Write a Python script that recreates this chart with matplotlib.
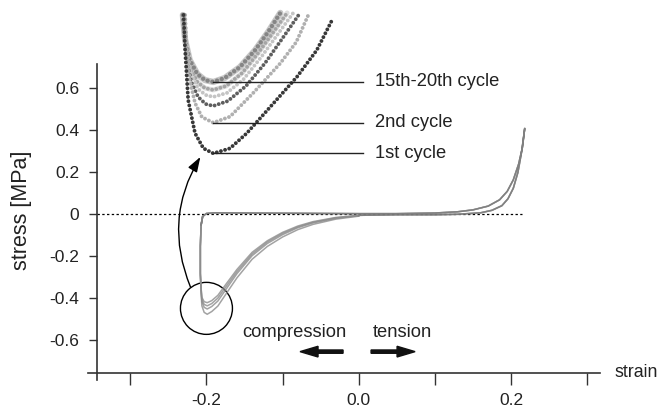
import numpy as np
import matplotlib.pyplot as plt
from matplotlib.patches import Ellipse

plt.rcParams['font.family'] = ['Liberation Sans', 'DejaVu Sans']
plt.rcParams['axes.unicode_minus'] = False

# Hauptschleife: gemeinsamer Teil (Entlastung Druck -> Zug -> zurueck)
shared_x = [-0.207, -0.205, -0.200, -0.190, -0.150, -0.100, -0.050, 0.000, 0.050, 0.100,
            0.130, 0.150, 0.170, 0.185, 0.195, 0.203, 0.210, 0.215, 0.218,
            0.214, 0.209, 0.203, 0.196, 0.188, 0.175, 0.160, 0.130, 0.100, 0.050, 0.000]
shared_y = [-0.050, -0.010, 0.005, 0.008, 0.007, 0.006, 0.005, 0.004, 0.004, 0.007,
            0.013, 0.022, 0.040, 0.070, 0.110, 0.165, 0.240, 0.320, 0.410,
            0.300, 0.200, 0.125, 0.075, 0.042, 0.020, 0.008, 0.001, -0.001, -0.001, -0.004]

# Druckast je Zyklus
comp_x = [0.000, -0.030, -0.060, -0.080, -0.100, -0.120, -0.140, -0.160, -0.175, -0.185,
          -0.193, -0.199, -0.203, -0.206, -0.207, -0.208, -0.208, -0.207, -0.205]
comp_y_late_a = [-0.004, -0.014, -0.034, -0.055, -0.085, -0.125, -0.180, -0.262, -0.335, -0.385,
                 -0.410, -0.420, -0.415, -0.395, -0.350, -0.280, -0.150, -0.050, -0.010]
comp_y_late_b = [-0.005, -0.016, -0.037, -0.059, -0.090, -0.131, -0.188, -0.272, -0.347, -0.398,
                 -0.424, -0.435, -0.428, -0.405, -0.355, -0.280, -0.150, -0.050, -0.010]
comp_y_2nd = [-0.006, -0.018, -0.040, -0.063, -0.096, -0.138, -0.196, -0.282, -0.360, -0.412,
              -0.438, -0.450, -0.442, -0.415, -0.360, -0.285, -0.150, -0.050, -0.010]
comp_y_1st = [-0.008, -0.022, -0.047, -0.072, -0.107, -0.152, -0.213, -0.302, -0.382, -0.436,
              -0.462, -0.475, -0.466, -0.435, -0.375, -0.290, -0.150, -0.050, -0.010]

# Vergroesserung der Minima (Inset)
c20_x = [-0.231, -0.228, -0.222, -0.212, -0.202, -0.191, -0.176, -0.156, -0.136, -0.119, -0.103]
c20_y = [0.950, 0.831, 0.736, 0.669, 0.640, 0.631, 0.650, 0.702, 0.783, 0.869, 0.960]
c5_x = [-0.230, -0.227, -0.222, -0.212, -0.202, -0.191, -0.174, -0.153, -0.132, -0.113, -0.094]
c5_y = [0.950, 0.807, 0.702, 0.631, 0.602, 0.593, 0.612, 0.674, 0.769, 0.864, 0.960]
c4_x = [-0.229, -0.227, -0.220, -0.211, -0.201, -0.191, -0.173, -0.151, -0.128, -0.107, -0.086]
c4_y = [0.950, 0.783, 0.669, 0.598, 0.569, 0.560, 0.579, 0.645, 0.750, 0.855, 0.960]
c3_x = [-0.229, -0.227, -0.220, -0.211, -0.201, -0.191, -0.172, -0.148, -0.123, -0.099, -0.077]
c3_y = [0.950, 0.760, 0.631, 0.560, 0.526, 0.517, 0.540, 0.612, 0.721, 0.845, 0.960]
c2_x = [-0.228, -0.226, -0.222, -0.215, -0.206, -0.191, -0.169, -0.139, -0.103, -0.082, -0.065]
c2_y = [0.950, 0.783, 0.640, 0.531, 0.464, 0.437, 0.466, 0.577, 0.720, 0.821, 0.960]
c1_x = [-0.230, -0.228, -0.224, -0.215, -0.204, -0.191, -0.169, -0.147, -0.116, -0.081, -0.055, -0.035]
c1_y = [0.950, 0.783, 0.545, 0.387, 0.315, 0.291, 0.315, 0.387, 0.513, 0.656, 0.783, 0.926]

yticks = [-0.6, -0.4, -0.2, 0, 0.2, 0.4, 0.6]
ytick_labels = ['-0.6', '-0.4', '-0.2', '0', '0.2', '0.4', '0.6']
xticks = [-0.3, -0.2, -0.1, 0.0, 0.1, 0.2, 0.3]
xtick_labels = ['', '-0.2', '', '0.0', '', '0.2', '']

fig = plt.figure(figsize=(6.59, 4.13), dpi=100)
ax = fig.add_axes([0.1284, 0.07385, 0.7857, 0.9102])
ax.set_xlim(-0.36, 0.32)
ax.set_ylim(-0.80, 0.99)

# Achsen
for s in ['top', 'right']:
    ax.spines[s].set_visible(False)
ax.spines['left'].set_position(('data', -0.344))
ax.spines['left'].set_bounds(-0.789, 0.717)
ax.spines['bottom'].set_position(('data', -0.753))
ax.spines['bottom'].set_bounds(-0.355, 0.317)
for s in ['left', 'bottom']:
    ax.spines[s].set_color('#333333')
    ax.spines[s].set_linewidth(1.2)
ax.set_yticks(yticks)
ax.set_yticklabels(ytick_labels)
ax.set_xticks(xticks)
ax.set_xticklabels(xtick_labels)
ax.tick_params(axis='y', direction='out', length=5.8, width=1, color='#333333',
               labelsize=12.5, pad=7, labelcolor='#222222')
ax.tick_params(axis='x', direction='out', length=8.6, width=1, color='#333333',
               labelsize=12.5, pad=6, labelcolor='#222222')

# Nulllinie
ax.plot([-0.344, 0.214], [0, 0], color='black', lw=0.9, ls=(0, (1.9, 1.9)))

# Hauptschleifen
for cy in [comp_y_1st, comp_y_2nd, comp_y_late_b, comp_y_late_a]:
    ax.plot(comp_x, cy, color='#8c8c8c', lw=1.1, alpha=0.8)
    ax.plot(shared_x, shared_y, color='#7c7c7c', lw=1.1, alpha=0.55)

# Inset-Kurven als Perlenketten
ax.plot(c20_x, c20_y, color='#a0a0a0', lw=4.5, alpha=0.6, solid_capstyle='round')
ax.plot(c5_x, c5_y, color='#c8c8c8', lw=3.5, alpha=0.6, solid_capstyle='round')
inset = [(c20_x, c20_y, '#858585', 3.2), (c5_x, c5_y, '#a5a5a5', 2.8),
         (c4_x, c4_y, '#c4c4c4', 2.8), (c3_x, c3_y, '#5e5e5e', 2.8),
         (c2_x, c2_y, '#b0b0b0', 2.8), (c1_x, c1_y, '#383838', 2.8)]
for xs, ys, col, lw in inset:
    ax.plot(xs, ys, color=col, lw=lw, ls=(0, (0.01, 1.1)), dash_capstyle='round')

# Beschriftungen der Zyklen
for xs, ys, label in [(c20_x, c20_y, '15th-20th cycle'), (c2_x, c2_y, '2nd cycle'),
                      (c1_x, c1_y, '1st cycle')]:
    i = int(np.argmin(ys))
    ax.plot([xs[i], 0.006], [ys[i], ys[i]], color='#222222', lw=1)
    ax.text(0.022, ys[i], label, ha='left', va='center', fontsize=13.2, color='#222222')

# Kreis und gebogener Pfeil
ax.add_patch(Ellipse((-0.2, -0.447), 52 / 761.5, 52 / 210, fill=False, ec='black', lw=1))
ax.annotate('', xy=(-0.208, 0.274), xytext=(-0.221, -0.345),
            arrowprops=dict(arrowstyle='-|>,head_length=0.5,head_width=0.17',
                            connectionstyle='arc3,rad=-0.25', color='black', lw=1,
                            mutation_scale=18, shrinkA=0, shrinkB=0))

# Druck / Zug
ax.text(-0.084, -0.564, 'compression', ha='center', va='center', fontsize=13.2, color='#222222')
ax.text(0.057, -0.564, 'tension', ha='center', va='center', fontsize=13.2, color='#222222')
ax.arrow(-0.0206, -0.653, -0.0565, 0, width=3.3 / 210, head_width=10.7 / 210,
         head_length=18 / 761.5, length_includes_head=True, color='#111111')
ax.arrow(0.0162, -0.653, 0.0578, 0, width=3.3 / 210, head_width=10.7 / 210,
         head_length=18 / 761.5, length_includes_head=True, color='#111111')

fig.text(0.0329, 0.4915, 'stress [MPa]', rotation=90, ha='center', va='center',
         fontsize=15.5, color='#222222')
fig.text(0.9322, 0.0969, 'strain', ha='left', va='center', fontsize=12.8, color='#222222')

fig.savefig('out.png', dpi=100)
